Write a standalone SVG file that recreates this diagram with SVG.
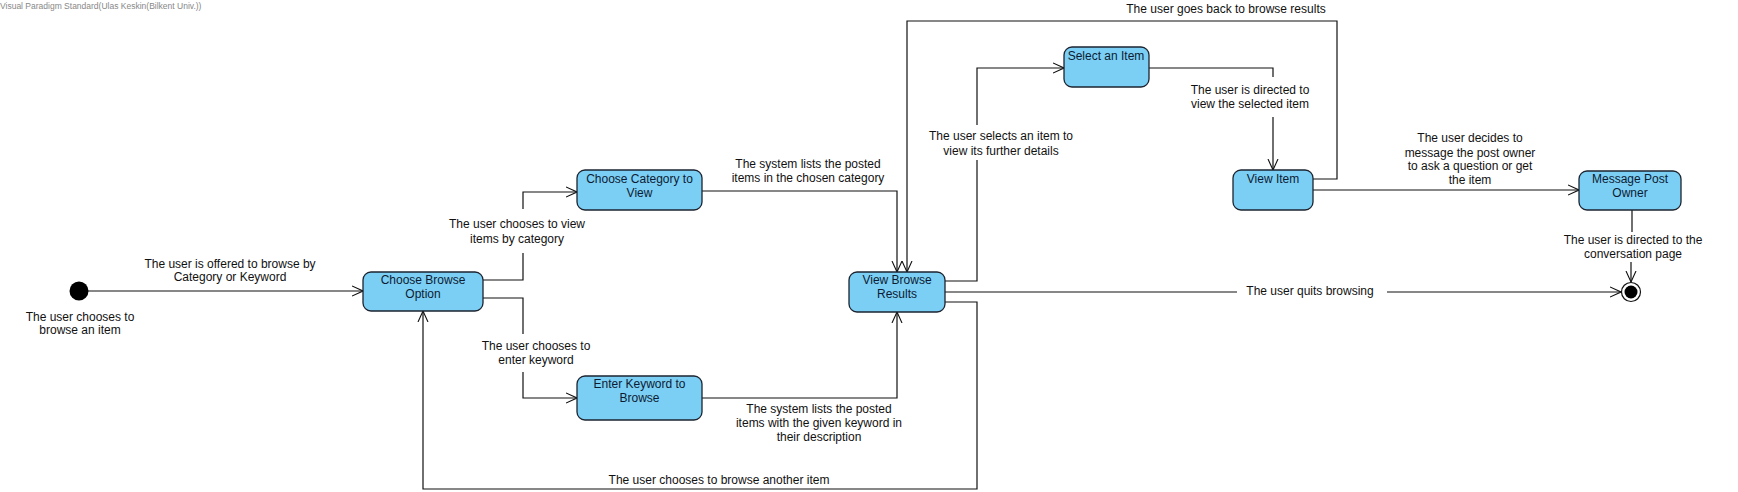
<svg xmlns="http://www.w3.org/2000/svg" width="1738" height="492" viewBox="0 0 1738 492">
<defs>
<style>
.bg{fill:#ffffff}
.node rect{fill:#7bcff4;stroke:#1d2430;stroke-width:1.3}
.nt{font-family:"Liberation Sans",Arial,sans-serif;font-size:12px;fill:#0d1b33;text-anchor:middle}
.lbl{font-family:"Liberation Sans",Arial,sans-serif;font-size:12px;fill:#111;text-anchor:middle}
.edge{fill:none;stroke:#111;stroke-width:1.2}
.wm{font-family:"Liberation Sans",Arial,sans-serif;font-size:8.5px;fill:#888}
</style>
<marker id="arr" viewBox="0 0 12 12" refX="11" refY="6" markerWidth="12" markerHeight="12" markerUnits="userSpaceOnUse" orient="auto">
<path d="M0,1 L11,6 L0,11" fill="none" stroke="#111" stroke-width="1.1"/>
</marker>
</defs>
<rect class="bg" x="0" y="0" width="1738" height="492"/>
<text class="wm" x="0" y="9">Visual Paradigm Standard(Ulas Keskin(Bilkent Univ.))</text>

<g id="connectors">
<path class="edge" d="M88 291 H363" marker-end="url(#arr)"/>
<path class="edge" d="M483 280 H523 V253 M523 209 V192 H577" marker-end="url(#arr)"/>
<path class="edge" d="M483 298 H523 V334 M523 372 V398 H577" marker-end="url(#arr)"/>
<path class="edge" d="M702 191 H897 V272" marker-end="url(#arr)"/>
<path class="edge" d="M702 398 H897 V312" marker-end="url(#arr)"/>
<path class="edge" d="M945 281 H977 V160 M977 125 V68 H1064" marker-end="url(#arr)"/>
<path class="edge" d="M1149 68 H1273 V77 M1273 117 V170" marker-end="url(#arr)"/>
<path class="edge" d="M1313 179 H1337 V21 H907 V272" marker-end="url(#arr)"/>
<path class="edge" d="M1313 190 H1579" marker-end="url(#arr)"/>
<path class="edge" d="M1632 210 V232 M1631 262 V282" marker-end="url(#arr)" stroke="#444"/>
<path class="edge" d="M945 292 H1237 M1387 292 H1621" marker-end="url(#arr)"/>
<path class="edge" d="M945 302 H977 V489 H423 V311" marker-end="url(#arr)"/>

<text class="lbl" x="230" y="268">The user is offered to browse by</text>
<text class="lbl" x="230" y="281">Category or Keyword</text>
<text class="lbl" x="80" y="321">The user chooses to</text>
<text class="lbl" x="80" y="334">browse an item</text>
<text class="lbl" x="517" y="228">The user chooses to view</text>
<text class="lbl" x="517" y="243">items by category</text>
<text class="lbl" x="536" y="350">The user chooses to</text>
<text class="lbl" x="536" y="364">enter keyword</text>
<text class="lbl" x="808" y="168">The system lists the posted</text>
<text class="lbl" x="808" y="182">items in the chosen category</text>
<text class="lbl" x="819" y="413">The system lists the posted</text>
<text class="lbl" x="819" y="427">items with the given keyword in</text>
<text class="lbl" x="819" y="441">their description</text>
<text class="lbl" x="719" y="484">The user chooses to browse another item</text>
<text class="lbl" x="1001" y="140">The user selects an item to</text>
<text class="lbl" x="1001" y="155">view its further details</text>
<text class="lbl" x="1250" y="94">The user is directed to</text>
<text class="lbl" x="1250" y="108">view the selected item</text>
<text class="lbl" x="1226" y="13">The user goes back to browse results</text>
<text class="lbl" x="1470" y="142">The user decides to</text>
<text class="lbl" x="1470" y="157">message the post owner</text>
<text class="lbl" x="1470" y="170">to ask a question or get</text>
<text class="lbl" x="1470" y="184">the item</text>
<text class="lbl" x="1633" y="244">The user is directed to the</text>
<text class="lbl" x="1633" y="258">conversation page</text>
<text class="lbl" x="1310" y="295">The user quits browsing</text>
</g>

<g id="initial">
<circle cx="79" cy="291" r="9.5" fill="#000"/>
</g>

<g id="final">
<circle cx="1631" cy="292" r="9.5" fill="#fff" stroke="#111" stroke-width="1.2"/>
<circle cx="1631" cy="292" r="6.5" fill="#000"/>
</g>

<g id="choose-browse-option" class="node">
<rect x="363" y="272" width="120" height="39" rx="8"/>
<text class="nt" x="423" y="283.5">Choose Browse</text>
<text class="nt" x="423" y="297.5">Option</text>
</g>

<g id="choose-category" class="node">
<rect x="577" y="170" width="125" height="40" rx="8"/>
<text class="nt" x="639.5" y="182.5">Choose Category to</text>
<text class="nt" x="639.5" y="196.5">View</text>
</g>

<g id="enter-keyword" class="node">
<rect x="577" y="376" width="125" height="44" rx="8"/>
<text class="nt" x="639.5" y="387.5">Enter Keyword to</text>
<text class="nt" x="639.5" y="401.5">Browse</text>
</g>

<g id="view-browse-results" class="node">
<rect x="849" y="272" width="96" height="40" rx="8"/>
<text class="nt" x="897" y="283.5">View Browse</text>
<text class="nt" x="897" y="297.5">Results</text>
</g>

<g id="select-item" class="node">
<rect x="1064" y="47" width="85" height="40" rx="8"/>
<text class="nt" x="1106" y="59.5">Select an Item</text>
</g>

<g id="view-item" class="node">
<rect x="1233" y="170" width="80" height="40" rx="8"/>
<text class="nt" x="1273" y="182.5">View Item</text>
</g>

<g id="message-post-owner" class="node">
<rect x="1579" y="171" width="102" height="39" rx="8"/>
<text class="nt" x="1630" y="182.5">Message Post</text>
<text class="nt" x="1630" y="196.5">Owner</text>
</g>
</svg>
